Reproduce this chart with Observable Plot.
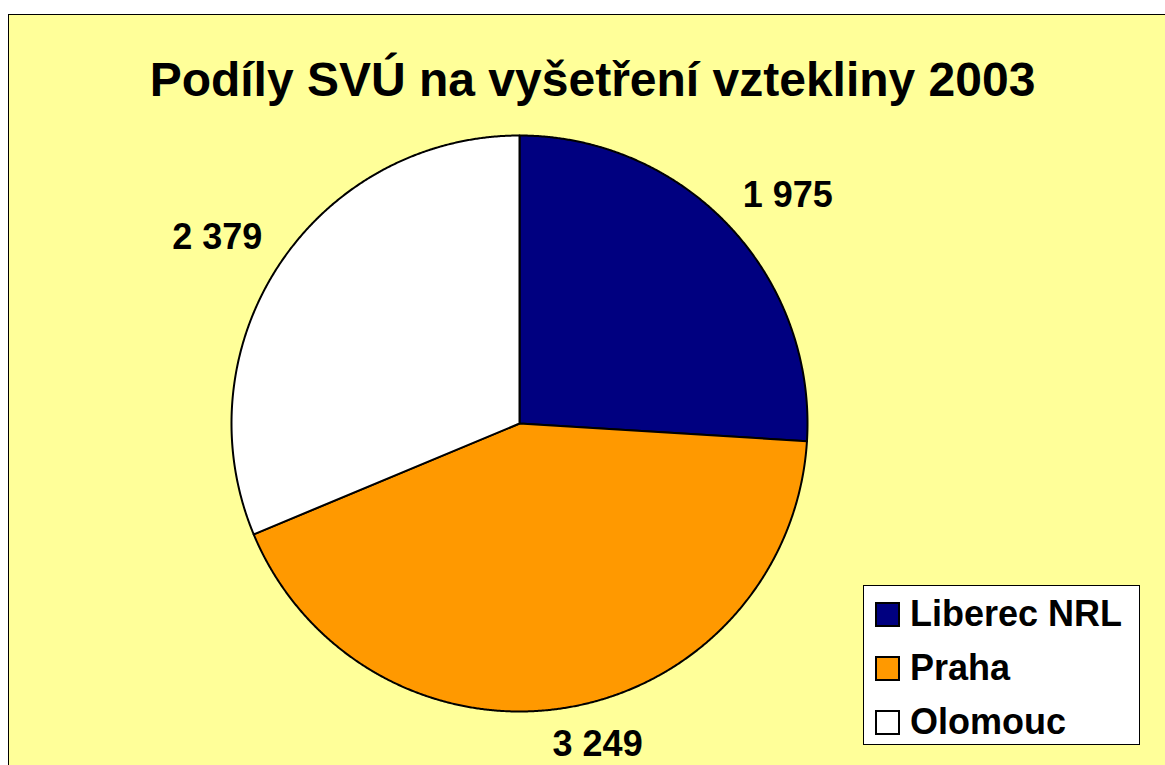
<!DOCTYPE html>
<html>
<head>
<meta charset="utf-8">
<script src="https://cdn.jsdelivr.net/npm/d3@7"></script>
<script src="https://cdn.jsdelivr.net/npm/@observablehq/plot@0.6"></script>
<style>
  html, body { margin: 0; padding: 0; background: #fff; overflow: hidden; width: 1165px; height: 765px; }
  body { position: relative; font-family: "Liberation Sans", Arial, sans-serif; }
  #frame { position: absolute; left: 8px; top: 14px; width: 1200px; height: 800px; border: 1px solid #000; background: #FFFF99; }
  #title { position: absolute; left: 10px; top: 56px; width: 1165px; text-align: center; font-size: 48px; line-height: 48px; font-weight: bold; color: #000; white-space: nowrap; }
  #chart { position: absolute; left: 0; top: 120px; }
  #legend { position: absolute; left: 863px; top: 585px; width: 277px; height: 160px; box-sizing: border-box; border: 1px solid #000; background: #fff; padding-top: 1px; }
  .row { height: 54px; display: flex; align-items: center; }
  .sw { width: 25px; height: 25px; box-sizing: border-box; border: 2px solid #000; margin-left: 11px; margin-right: 10px; }
  .lab { font-size: 36px; font-weight: bold; line-height: 36px; color: #000; white-space: nowrap; }
</style>
</head>
<body>
<div id="frame"></div>
<div id="title">Podíly SVÚ na vyšetření vztekliny 2003</div>
<div id="chart"></div>
<div id="legend"></div>
<script>
const names = ["Liberec NRL", "Praha", "Olomouc"];
const values = [1975, 3249, 2379];
const colors = ["#000080", "#FF9900", "#FFFFFF"];

// layout (pixel space of the page)
const W = 1165, H = 765, top0 = 120;
const cx = 519, cy = 423, R = 288;

const fmt = d3.formatLocale({decimal: ",", thousands: " ", grouping: [3], currency: ["", ""]}).format(",");
const arcs = d3.pie().sort(null).value(d => d)(values);

const pts = [];
arcs.forEach((a, i) => {
  const name = names[i];
  pts.push({name, x: cx, y: cy});
  const n = Math.max(2, Math.ceil((a.endAngle - a.startAngle) / (Math.PI / 720)));
  for (let k = 0; k <= n; k++) {
    const t = a.startAngle + (a.endAngle - a.startAngle) * k / n;
    pts.push({name, x: cx + R * Math.sin(t), y: cy - R * Math.cos(t)});
  }
  pts.push({name, x: cx, y: cy});
});

const labels = arcs.map((a, i) => {
  const m = (a.startAngle + a.endAngle) / 2;
  const s = Math.sin(m), c = Math.cos(m);
  const g = 24, w = 90, h = 30;
  const px = cx + (R + g) * s, py = cy - (R + g) * c;
  return {
    name: names[i],
    text: fmt(values[i]),
    x: px + (w / 2) * Math.sign(s) * Math.pow(Math.abs(s), 0.3),
    y: py - (h / 2) * Math.sign(c) * Math.sqrt(Math.abs(c)) - 2
  };
});

const chart = Plot.plot({
  width: W,
  height: H - top0,
  margin: 0,
  x: {domain: [0, W], range: [0, W], axis: null},
  y: {domain: [top0, H], range: [0, H - top0], axis: null},
  color: {domain: names, range: colors},
  style: {background: "transparent", overflow: "visible"},
  marks: [
    Plot.line(pts, {x: "x", y: "y", z: "name", fill: "name", stroke: "#000", strokeWidth: 2, strokeLinejoin: "round", curve: "linear"}),
    Plot.text(labels, {x: "x", y: "y", text: "text", fontSize: 36, fontWeight: "bold", fontFamily: "Liberation Sans, Arial, sans-serif", fill: "#000"})
  ]
});
document.getElementById("chart").appendChild(chart);

const leg = document.getElementById("legend");
names.forEach((n, i) => {
  const row = document.createElement("div");
  row.className = "row";
  const sw = document.createElement("div");
  sw.className = "sw";
  sw.style.background = colors[i];
  const lab = document.createElement("div");
  lab.className = "lab";
  lab.textContent = n;
  row.appendChild(sw);
  row.appendChild(lab);
  leg.appendChild(row);
});
</script>
</body>
</html>
